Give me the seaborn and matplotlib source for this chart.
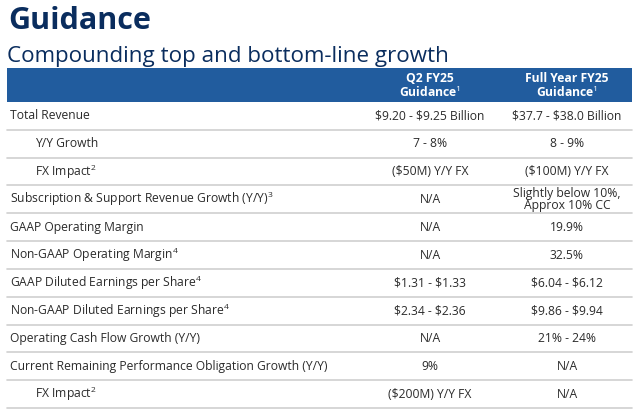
import matplotlib.pyplot as plt
import seaborn as sns

# table content
metrics = ['Total Revenue', 'Y/Y Growth', 'FX Impact$^{2}$',
           'Subscription & Support Revenue Growth (Y/Y)$^{3}$',
           'GAAP Operating Margin', 'Non-GAAP Operating Margin$^{4}$',
           'GAAP Diluted Earnings per Share$^{4}$',
           'Non-GAAP Diluted Earnings per Share$^{4}$',
           'Operating Cash Flow Growth (Y/Y)',
           'Current Remaining Performance Obligation Growth (Y/Y)',
           'FX Impact$^{2}$']
indented = [False, True, True, False, False, False, False, False, False, False, True]
q2_values = ['\\$9.20 - \\$9.25 Billion', '7 - 8%', '(\\$50M) Y/Y FX', 'N/A', 'N/A', 'N/A',
             '\\$1.31 - \\$1.33', '\\$2.34 - \\$2.36', 'N/A', '9%', '(\\$200M) Y/Y FX']
fy_values = ['\\$37.7 - \\$38.0 Billion', '8 - 9%', '(\\$100M) Y/Y FX',
             'Slightly below 10%,\nApprox 10% CC', '19.9%', '32.5%',
             '\\$6.04 - \\$6.12', '\\$9.86 - \\$9.94', '21% - 24%', 'N/A', 'N/A']
col_headers = ['Q2 FY25\nGuidance$^{1}$', 'Full Year FY25\nGuidance$^{1}$']

sns.set_theme(style='white')
plt.rcParams['font.family'] = ['Open Sans', 'DejaVu Sans']
plt.rcParams['mathtext.fontset'] = 'custom'
plt.rcParams['mathtext.rm'] = 'Open Sans'
plt.rcParams['mathtext.it'] = 'Open Sans'
plt.rcParams['mathtext.bf'] = 'Open Sans:bold'

navy = '#0a2d5e'
bar_blue = '#215c9e'
text_col = '#2b2b2b'
line_col = '#cfcfcf'

fig = plt.figure(figsize=(6.4, 4.11), dpi=100)
ax = fig.add_axes([0, 0, 1, 1])
ax.set_xlim(0, 640)
ax.set_ylim(411, 0)
ax.axis('off')

fig.text(8 / 640, 1 - 29 / 411, 'Guidance', fontsize=22, fontweight='bold', color=navy)
fig.text(7 / 640, 1 - 62 / 411, 'Compounding top and bottom-line growth', fontsize=16.1, color=navy)

left, right = 7, 632
head_top, head_bot = 68, 102
row_h = (408 - head_bot) / len(metrics)
col_x = [430, 567]
fs = 8.7

ax.fill_between([left, right], head_top, head_bot, color=bar_blue, lw=0)
for x, h in zip(col_x, col_headers):
    ax.text(x, (head_top + head_bot) / 2 + 1, h, ha='center', va='center', color='white',
            fontsize=fs, fontweight='bold', linespacing=1.0)

for i, (m, ind, q2, fy) in enumerate(zip(metrics, indented, q2_values, fy_values)):
    yc = head_bot + (i + 0.5) * row_h
    ax.text(35 if ind else 10, yc, m, ha='left', va='center', fontsize=fs, color=text_col)
    ax.text(col_x[0], yc, q2, ha='center', va='center', fontsize=fs, color=text_col)
    ax.text(col_x[1], yc, fy, ha='center', va='center', fontsize=fs, color=text_col,
            linespacing=0.95)
    ax.plot([left, right], [head_bot + (i + 1) * row_h] * 2, color=line_col, lw=1.2)

fig.savefig('out.png', dpi=100)
